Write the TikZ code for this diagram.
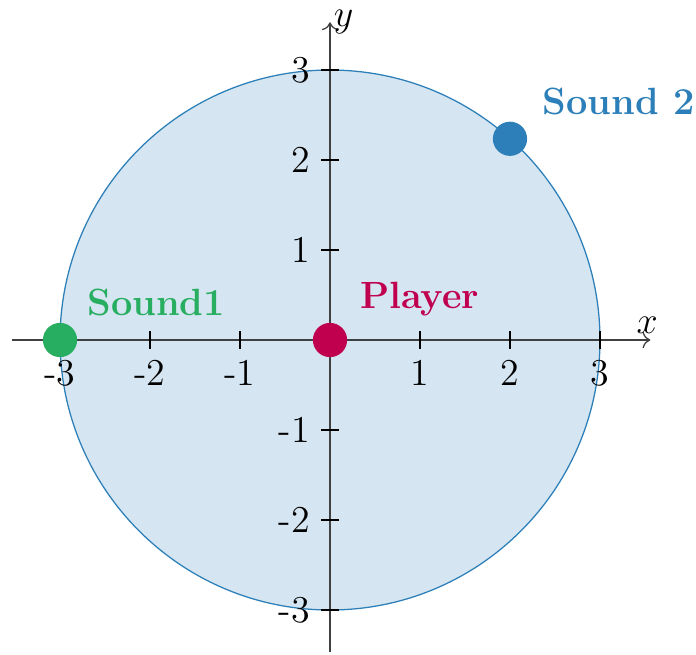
\documentclass[tikz,border=0pt]{standalone}
\usepackage{tikz}
\usetikzlibrary{arrows.meta,positioning,calc}
\definecolor{soundblue}{HTML}{2C7FB8}
\definecolor{soundgreen}{HTML}{27AE60}
\definecolor{playerred}{HTML}{C0004F}

\begin{document}
\begin{tikzpicture}[x=1cm,y=1cm,font=\large,
  dot/.style={circle,fill=#1,inner sep=0pt,minimum size=0.38cm},
  tag/.style={text=#1,font=\large\bfseries}]
\useasboundingbox (-3.667,-3.5) rectangle (4.067,3.778);
\fill[soundblue!20] (0,0) circle (3);
\draw[soundblue,thin] (0,0) circle (3);
\draw[->,black!75] (-3.53,0)--(3.56,0) node[above,xshift=-1pt,black,inner sep=2pt]{$x$};
\draw[->,black!75] (0,-3.47)--(0,3.53) node[right,black,inner sep=1pt]{$y$};
\foreach \x in {-3,-2,-1,1,2,3} {\draw (\x,0.1)--(\x,-0.1) node[below]{\x};}
\foreach \y in {-3,-2,-1,1,2,3} {\draw (0.1,\y)--(-0.1,\y) node[left]{\y};}
\node[dot=playerred] (player) at (0,0) {};
\node[dot=soundgreen] (sound1) at (-3,0) {};
\node[dot=soundblue] (sound2) at (2,2.236) {};
\node[tag=playerred,above right=0cm and 0.07cm of player] (playerlab) {Player};
\node[tag=soundgreen,above right=0cm and 0.04cm of sound1] (sound1lab) {Sound1};
\node[tag=soundblue,above right=0cm and 0.1cm of sound2] (sound2lab) {Sound 2};
\end{tikzpicture}
\end{document}
